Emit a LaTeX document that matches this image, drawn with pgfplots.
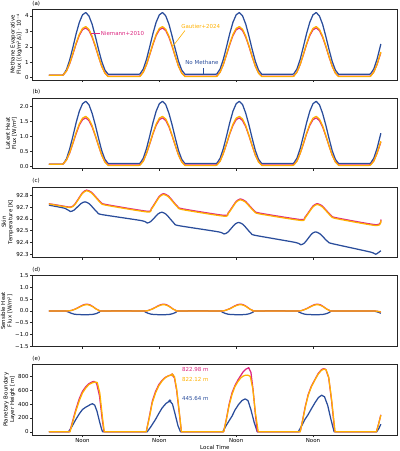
\documentclass[border=0pt]{standalone}
\usepackage{fontspec}
\setmainfont{DejaVu Sans}
\usepackage{pgfplots}
\usepackage{pgfplotstable}
\pgfplotsset{compat=1.18}

\definecolor{nometh}{HTML}{2A4D9B}
\definecolor{niem}{HTML}{DC267F}
\definecolor{gaut}{HTML}{FFB000}
\newcommand\tf{\fontsize{5.5}{6.4}\selectfont}

% methane evaporative flux (a*) and latent heat flux (l*): b = no methane, r = Niemann+2010, o = Gautier+2024
\pgfplotstableread{
h ab ar ao lb lr lo
1.5 0.16 0.16 0.16 0.08 0.08 0.08
5.6 0.16 0.16 0.16 0.08 0.08 0.08
6 0.19 0.18 0.18 0.095 0.09 0.092
7 0.52 0.43 0.44 0.26 0.22 0.22
8 1.15 0.91 0.93 0.59 0.455 0.47
9 1.97 1.53 1.57 1.01 0.77 0.79
10 2.84 2.18 2.24 1.46 1.09 1.13
11 3.58 2.74 2.81 1.84 1.38 1.42
12 4.07 3.11 3.19 2.09 1.56 1.61
13 4.22 3.22 3.31 2.17 1.62 1.67
14 4.00 3.05 3.13 2.06 1.53 1.58
15 3.46 2.62 2.69 1.77 1.32 1.36
16 2.68 2.02 2.07 1.38 1.02 1.04
17 1.83 1.35 1.38 0.94 0.69 0.70
18 1.05 0.74 0.74 0.53 0.38 0.38
19 0.49 0.30 0.29 0.24 0.16 0.15
20 0.22 0.09 0.07 0.10 0.055 0.04
29.6 0.22 0.09 0.07 0.10 0.055 0.04
30 0.25 0.11 0.09 0.115 0.067 0.052
31 0.57 0.37 0.36 0.28 0.19 0.18
32 1.19 0.85 0.86 0.60 0.44 0.44
33 2.01 1.49 1.52 1.02 0.75 0.77
34 2.86 2.15 2.20 1.46 1.09 1.11
35 3.59 2.73 2.80 1.84 1.37 1.41
36 4.07 3.10 3.19 2.09 1.56 1.61
37 4.22 3.22 3.31 2.17 1.62 1.67
38 4.00 3.05 3.13 2.06 1.53 1.58
39 3.46 2.62 2.69 1.77 1.32 1.36
40 2.68 2.02 2.07 1.38 1.02 1.04
41 1.83 1.35 1.38 0.94 0.69 0.70
42 1.05 0.74 0.74 0.53 0.38 0.38
43 0.49 0.30 0.29 0.24 0.16 0.15
44 0.22 0.09 0.07 0.10 0.055 0.04
53.6 0.22 0.09 0.07 0.10 0.055 0.04
54 0.25 0.11 0.09 0.115 0.067 0.052
55 0.57 0.37 0.36 0.28 0.19 0.18
56 1.19 0.85 0.86 0.60 0.44 0.44
57 2.01 1.49 1.52 1.02 0.75 0.77
58 2.86 2.15 2.20 1.46 1.09 1.11
59 3.59 2.73 2.80 1.84 1.37 1.41
60 4.07 3.10 3.19 2.09 1.56 1.61
61 4.22 3.22 3.31 2.17 1.62 1.67
62 4.00 3.05 3.13 2.06 1.53 1.58
63 3.46 2.62 2.69 1.77 1.32 1.36
64 2.68 2.02 2.07 1.38 1.02 1.04
65 1.83 1.35 1.38 0.94 0.69 0.70
66 1.05 0.74 0.74 0.53 0.38 0.38
67 0.49 0.30 0.29 0.24 0.16 0.15
68 0.22 0.09 0.07 0.10 0.055 0.04
77.6 0.22 0.09 0.07 0.10 0.055 0.04
78 0.25 0.11 0.09 0.115 0.067 0.052
79 0.57 0.37 0.36 0.28 0.19 0.18
80 1.19 0.85 0.86 0.60 0.44 0.44
81 2.01 1.49 1.52 1.02 0.75 0.77
82 2.86 2.15 2.20 1.46 1.09 1.11
83 3.59 2.73 2.80 1.84 1.37 1.41
84 4.07 3.10 3.19 2.09 1.56 1.61
85 4.22 3.22 3.31 2.17 1.62 1.67
86 4.00 3.05 3.13 2.06 1.53 1.58
87 3.46 2.62 2.69 1.77 1.32 1.36
88 2.68 2.02 2.07 1.38 1.02 1.04
89 1.83 1.35 1.38 0.94 0.69 0.70
90 1.05 0.74 0.74 0.53 0.38 0.38
91 0.49 0.30 0.29 0.24 0.16 0.15
92 0.22 0.09 0.07 0.10 0.055 0.04
101.6 0.22 0.09 0.07 0.10 0.055 0.04
102 0.25 0.11 0.09 0.115 0.067 0.052
103 0.57 0.37 0.36 0.28 0.19 0.18
104 1.19 0.85 0.86 0.60 0.44 0.44
105 2.01 1.49 1.52 1.02 0.75 0.77
105.2 2.18 1.62 1.66 1.11 0.82 0.84
}\fluxtab

% skin temperature [K]
\pgfplotstableread{
h tr to
1.5 92.729 92.727
4.5 92.716 92.713
8.2 92.700 92.697
9.475 92.7212 92.717
10.75 92.7725 92.767
12.025 92.8238 92.818
13.3 92.845 92.840
14.775 92.8271 92.821
16.25 92.784 92.778
17.725 92.7409 92.735
19.2 92.723 92.717
32.2 92.665 92.659
33.475 92.687 92.681
34.75 92.740 92.733
36.025 92.793 92.786
37.3 92.815 92.808
38.775 92.796 92.789
40.25 92.7505 92.744
41.725 92.705 92.699
43.2 92.686 92.679
56.2 92.630 92.623
57.475 92.6505 92.644
58.75 92.700 92.693
60.025 92.7495 92.743
61.3 92.770 92.763
62.775 92.7524 92.745
64.25 92.710 92.703
65.725 92.6676 92.661
67.2 92.650 92.643
80.2 92.594 92.587
81.475 92.614 92.607
82.75 92.662 92.655
84.025 92.710 92.703
85.3 92.730 92.723
86.775 92.7124 92.705
88.25 92.670 92.663
89.725 92.6276 92.621
91.2 92.610 92.603
103.9 92.550 92.543
105.2 92.595 92.588
}\tskinRO

\pgfplotstableread{
h tb
1.5 92.717
6.5 92.690
8.2 92.663
9.35 92.675
10.5 92.704
11.65 92.733
12.8 92.745
14.1 92.729
15.4 92.691
16.7 92.653
18.0 92.637
30.5 92.585
32.2 92.565
33.35 92.5785
34.5 92.611
35.65 92.6435
36.8 92.657
38.1 92.640
39.4 92.600
40.7 92.560
42.0 92.543
54.5 92.490
56.2 92.472
57.35 92.486
58.5 92.521
59.65 92.556
60.8 92.570
62.1 92.554
63.4 92.515
64.7 92.476
66.0 92.460
78.5 92.400
80.2 92.380
81.35 92.396
82.5 92.435
83.65 92.474
84.8 92.490
86.1 92.475
87.4 92.440
88.7 92.405
90.0 92.390
102.0 92.318
103.6 92.300
105.2 92.330
}\tskinB

% sensible heat flux [W/m2]
\pgfplotstableread{
h sr so
1.5 0 0
7.0 0 0
8.5 0.02 0.02
10.0 0.10 0.09
11.5 0.21 0.195
12.5 0.27 0.25
13.3 0.29 0.27
14.3 0.26 0.24
15.3 0.18 0.17
16.3 0.08 0.075
17.2 0.02 0.02
18.0 0 0
31.0 0 0
32.5 0.02 0.02
34.0 0.10 0.09
35.5 0.21 0.195
36.5 0.27 0.25
37.3 0.29 0.27
38.3 0.26 0.24
39.3 0.18 0.17
40.3 0.08 0.075
41.2 0.02 0.02
42.0 0 0
55.0 0 0
56.5 0.02 0.02
58.0 0.10 0.09
59.5 0.21 0.195
60.5 0.27 0.25
61.3 0.29 0.27
62.3 0.26 0.24
63.3 0.18 0.17
64.3 0.08 0.075
65.2 0.02 0.02
66.0 0 0
79.0 0 0
80.5 0.02 0.02
82.0 0.10 0.09
83.5 0.21 0.195
84.5 0.27 0.25
85.3 0.29 0.27
86.3 0.26 0.24
87.3 0.18 0.17
88.3 0.08 0.075
89.2 0.02 0.02
90.0 0 0
102.5 0 0
103.8 -0.01 -0.01
104.6 -0.025 -0.025
105.2 -0.045 -0.045
}\shRO

\pgfplotstableread{
h sb
1.5 0
6.6 0
7.5 -0.04
8.5 -0.10
9.5 -0.14
11.0 -0.155
13.0 -0.16
15.0 -0.15
16.3 -0.11
17.3 -0.05
18.3 0
30.6 0
31.5 -0.04
32.5 -0.10
33.5 -0.14
35.0 -0.155
37.0 -0.16
39.0 -0.15
40.3 -0.11
41.3 -0.05
42.3 0
54.6 0
55.5 -0.04
56.5 -0.10
57.5 -0.14
59.0 -0.155
61.0 -0.16
63.0 -0.15
64.3 -0.11
65.3 -0.05
66.3 0
78.6 0
79.5 -0.04
80.5 -0.10
81.5 -0.14
83.0 -0.155
85.0 -0.16
87.0 -0.15
88.3 -0.11
89.3 -0.05
90.3 0
102.2 0
103.5 -0.02
104.5 -0.06
105.2 -0.10
}\shB

% planetary boundary layer height [m]
\pgfplotstableread{
h z
1.5 0
8.0 0
9.0 170
9.9 320
11.0 480
12.0 585
13.0 650
14.0 695
15.0 720
15.6 728
16.4 700
17.3 520
18.1 200
18.7 0
31.9 0
32.8 200
33.8 442
34.8 580
35.85 682
36.9 745
37.9 787
38.9 810
40.0 822.98
40.7 780
41.4 600
42.2 280
42.9 0
56.1 0
57.0 200
57.8 400
58.7 562
59.6 665
60.5 745
61.3 802
62.1 860
62.9 900
63.9 925
64.6 860
65.3 600
66.0 250
66.6 0
80.0 0
80.8 180
81.6 370
82.5 538
83.5 660
84.6 754
85.6 840
86.6 895
87.3 912
88.0 900
88.9 780
89.8 450
90.8 0
103.8 0
104.5 115
105.2 245
}\pblR

\pgfplotstableread{
h z
1.5 0
8.1 0
9.0 150
9.9 298
11.0 450
12.0 562
13.0 630
14.0 682
15.0 706
15.8 718
16.6 712
17.4 560
18.2 220
18.8 0
31.9 0
32.8 185
33.8 420
34.8 560
35.85 665
36.9 735
37.9 782
38.9 808
40.0 822.12
40.7 800
41.4 620
42.2 300
42.9 0
56.1 0
57.0 190
57.8 380
58.7 538
59.6 650
60.5 720
61.3 770
62.0 800
62.8 815
63.6 818
64.4 800
65.2 620
66.0 280
66.9 0
80.0 0
80.8 170
81.6 355
82.5 525
83.5 650
84.6 748
85.6 830
86.6 885
87.4 905
88.1 895
88.9 790
89.8 470
90.9 0
103.8 0
104.5 110
105.2 240
}\pblO

\pgfplotstableread{
h z
1.5 0
7.6 0
8.5 60
9.9 178
11.0 260
12.0 322
13.0 355
13.6 370
14.5 395
15.1 405
15.8 385
16.5 300
17.3 150
18.0 30
18.3 0
32.2 0
33.3 70
34.8 178
35.9 270
36.9 346
38.1 410
39.3 445.64
40.1 400
40.9 260
41.8 90
42.6 0
55.8 0
57.0 100
58.7 226
59.7 320
60.75 394
61.8 450
62.8 475
63.7 450
64.6 320
65.6 140
66.6 0
79.4 0
80.5 90
81.5 180
82.5 250
83.6 340
84.6 418
85.7 495
86.7 528
87.6 505
88.6 380
89.6 180
90.6 0
103.9 0
104.6 50
105.2 110
}\pblB

\pgfplotsset{
  every axis title shift=0pt,
  panel/.style={
    scale only axis, width=365.2bp, height=70.5bp,
    xmin=-3.69, xmax=110.4,
    xtick={12,36,60,84}, xticklabels={},
    tick align=outside, xtick pos=lower, ytick pos=left,
    major tick length=2.4bp,
    axis line style={black!85, line width=0.55bp},
    every tick/.style={black!85, line width=0.55bp},
    tick label style={font=\tf, inner sep=1.2bp},
    label style={font=\tf},
    ylabel style={align=center, inner sep=1.5bp},
    title style={font=\tf, at={(0,1)}, anchor=south west, inner sep=0pt, yshift=3.2bp},
    anchor=south west,
  },
  ser/.style={line width=1.25bp, line join=round},
}

\begin{document}
\begin{tikzpicture}
\useasboundingbox (0,0) rectangle (400bp,451bp);

% (a) methane evaporative flux
\begin{axis}[panel, at={(32.3bp,371.2bp)}, title={(a)},
  ymin=-0.1375, ymax=4.4275, ytick={0,1,2,3,4}, yticklabels={0,1,2,3,4},
  ylabel={Methane Evaporative\\Flux [(kg/m²/s)] · 10⁻⁴}]
  \addplot[ser, nometh] table[x=h, y=ab] {\fluxtab};
  \addplot[ser, niem] table[x=h, y=ar] {\fluxtab};
  \addplot[ser, gaut] table[x=h, y=ao] {\fluxtab};
  \draw[niem, line width=0.6bp] (axis cs:14.6,2.85) -- (axis cs:17.5,2.85);
  \node[niem, font=\tf, anchor=west, inner sep=0.6bp] at (axis cs:17.5,2.85) {Niemann+2010};
  \draw[gaut, line width=0.6bp] (axis cs:40.1,2.0) -- (axis cs:44.0,3.05);
  \node[gaut, font=\tf, anchor=west, inner sep=0.6bp] at (axis cs:42.6,3.29) {Gautier+2024};
  \draw[nometh, line width=0.6bp] (axis cs:49.8,0.27) -- (axis cs:49.8,0.62);
  \node[nometh, font=\tf, inner sep=0.6bp] at (axis cs:49.3,0.96) {No Methane};
\end{axis}

% (b) latent heat flux
\begin{axis}[panel, at={(32.3bp,282.4bp)}, title={(b)},
  ymin=-0.0665, ymax=2.2765, ytick={0,0.5,1,1.5,2}, yticklabels={0.0,0.5,1.0,1.5,2.0},
  ylabel={Latent Heat\\Flux [W/m²]}]
  \addplot[ser, nometh] table[x=h, y=lb] {\fluxtab};
  \addplot[ser, niem] table[x=h, y=lr] {\fluxtab};
  \addplot[ser, gaut] table[x=h, y=lo] {\fluxtab};
\end{axis}

% (c) skin temperature
\begin{axis}[panel, at={(32.3bp,193.6bp)}, title={(c)},
  ymin=92.273, ymax=92.872,
  ytick={92.3,92.4,92.5,92.6,92.7,92.8}, yticklabels={92.3,92.4,92.5,92.6,92.7,92.8},
  ylabel={Skin\\Temperature [K]}]
  \addplot[ser, nometh, smooth, tension=0.4] table[x=h, y=tb] {\tskinB};
  \addplot[ser, niem, smooth, tension=0.4] table[x=h, y=tr] {\tskinRO};
  \addplot[ser, gaut, smooth, tension=0.4] table[x=h, y=to] {\tskinRO};
\end{axis}

% (d) sensible heat flux
\begin{axis}[panel, at={(32.3bp,104.8bp)}, title={(d)},
  ymin=-1.5, ymax=1.5, ytick={-1.5,-1,-0.5,0,0.5,1,1.5},
  yticklabels={−1.5,−1.0,−0.5,0.0,0.5,1.0,1.5},
  ylabel={Sensible Heat\\Flux [W/m²]}]
  \addplot[ser, nometh, smooth, tension=0.4] table[x=h, y=sb] {\shB};
  \addplot[ser, niem, smooth, tension=0.4] table[x=h, y=sr] {\shRO};
  \addplot[ser, gaut, smooth, tension=0.4] table[x=h, y=so] {\shRO};
\end{axis}

% (e) planetary boundary layer height
\begin{axis}[panel, at={(32.3bp,16.0bp)}, title={(e)},
  ymin=-46.25, ymax=971.25, ytick={0,200,400,600,800}, yticklabels={0,200,400,600,800},
  xticklabels={Noon,Noon,Noon,Noon}, xlabel={Local Time},
  xlabel style={inner sep=1bp},
  ylabel={Planetary Boundary\\Layer Height [m]}]
  \addplot[ser, nometh] table[x=h, y=z] {\pblB};
  \addplot[ser, niem] table[x=h, y=z] {\pblR};
  \addplot[ser, gaut] table[x=h, y=z] {\pblO};
  \addplot[only marks, mark=*, mark size=1.3bp, niem] coordinates {(40.0,822.98)};
  \addplot[only marks, mark=*, mark size=1.3bp, gaut] coordinates {(40.0,822.12)};
  \addplot[only marks, mark=*, mark size=1.3bp, nometh] coordinates {(39.3,445.64)};
  \node[niem, font=\tf, anchor=west, inner sep=0.6bp] at (axis cs:42.9,900) {822.98 m};
  \node[gaut, font=\tf, anchor=west, inner sep=0.6bp] at (axis cs:42.9,750) {822.12 m};
  \node[nometh, font=\tf, anchor=west, inner sep=0.6bp] at (axis cs:42.9,475) {445.64 m};
\end{axis}
\end{tikzpicture}
\end{document}
